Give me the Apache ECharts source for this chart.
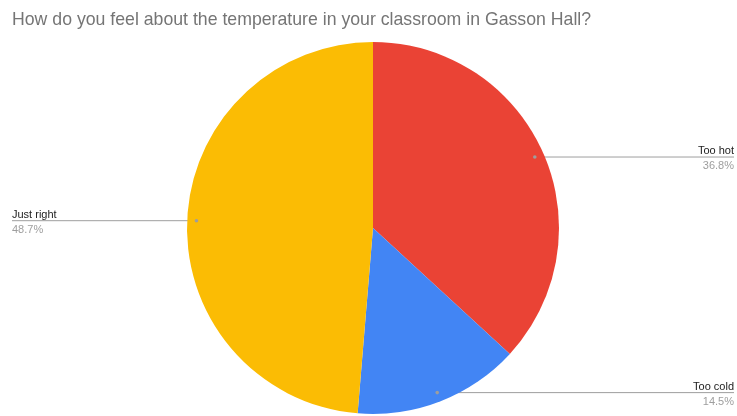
<!DOCTYPE html>
<html>
<head>
<meta charset="utf-8">
<script src="https://cdn.jsdelivr.net/npm/echarts@6/dist/echarts.min.js"></script>
<style>
  html, body { margin: 0; padding: 0; background: #fff; }
  #main { width: 737px; height: 416px; }
</style>
</head>
<body>
<div id="main"></div>
<script>
// survey answers (counts -> 36.8% / 14.5% / 48.7%)
var categories = ['Too hot', 'Too cold', 'Just right'];
var counts = [28, 11, 37];
var colors = ['#EA4335', '#4285F4', '#FBBC04'];

var cx = 373, cy = 228, radius = 186; // pie geometry
var total = counts.reduce(function (a, b) { return a + b; }, 0);

// point inside each slice where the leader line starts
function anchor(idx) {
  var before = 0;
  for (var i = 0; i < idx; i++) before += counts[i];
  var mid = (before + counts[idx] / 2) / total * Math.PI * 2;
  var r = radius * 0.95;
  return [cx + Math.sin(mid) * r, cy - Math.cos(mid) * r];
}

var chart = echarts.init(document.getElementById('main'), null, { renderer: 'canvas' });

var dots = categories.map(function (c, i) {
  var p = anchor(i);
  return {
    type: 'circle', z: 100,
    shape: { cx: p[0], cy: p[1], r: 1.8 },
    style: { fill: '#9e9e9e' }
  };
});

var option = {
  animation: false,
  title: {
    text: 'How do you feel about the temperature in your classroom in Gasson Hall?',
    left: 7, top: 6,
    textStyle: { color: '#757575', fontSize: 17.7, fontWeight: 'normal', fontFamily: 'Liberation Sans, Arial, sans-serif' }
  },
  graphic: dots,
  series: [{
    type: 'pie',
    center: [cx, cy],
    radius: radius,
    startAngle: 90,
    clockwise: true,
    data: categories.map(function (c, i) {
      return { name: c, value: counts[i], itemStyle: { color: colors[i] } };
    }),
    itemStyle: { borderWidth: 0 },
    label: {
      show: true,
      fontFamily: 'Liberation Sans, Arial, sans-serif',
      formatter: function (p) {
        return '{n|' + p.name + '}\n{p|' + (p.value / total * 100).toFixed(1) + '%}';
      },
      rich: {
        n: { fontSize: 11, color: '#222222', lineHeight: 16, fontFamily: 'Liberation Sans, Arial, sans-serif' },
        p: { fontSize: 11, color: '#9e9e9e', lineHeight: 14, fontFamily: 'Liberation Sans, Arial, sans-serif' }
      }
    },
    labelLine: { show: true, lineStyle: { color: '#9e9e9e', width: 1 } },
    labelLayout: function (params) {
      var p = anchor(params.dataIndex);
      var right = p[0] > cx;
      var edgeX = right ? 734 : 12;
      return {
        x: edgeX,
        y: p[1] + 1,
        align: right ? 'right' : 'left',
        verticalAlign: 'middle',
        labelLinePoints: [[p[0], p[1]], [edgeX, p[1]], [edgeX, p[1]]]
      };
    },
    emphasis: { disabled: true }
  }]
};

chart.setOption(option);
</script>
</body>
</html>
